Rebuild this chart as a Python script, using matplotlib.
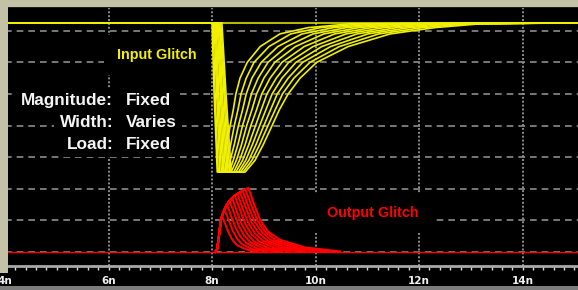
import matplotlib.pyplot as plt
from matplotlib.patches import Rectangle
from matplotlib.ticker import MultipleLocator

# ---- data (time in ns, level in grid units) ----
t_min, t_max = 4.0, 15.07
v_top = 7.25
v_low = 2.53

# input glitch: 11 traces, falling edge (top -> mid -> bottom)
fall_start = [8.00, 8.02, 8.04, 8.06, 8.08, 8.10, 8.12, 8.14, 8.15, 8.17, 8.19]
fall_mid = [8.04, 8.06, 8.09, 8.11, 8.13, 8.16, 8.18, 8.20, 8.23, 8.25, 8.27]
fall_bottom = [8.10, 8.12, 8.15, 8.18, 8.21, 8.23, 8.26, 8.29, 8.31, 8.34, 8.37]

# rising edge: time at which each trace crosses these levels
rise_levels = [2.53, 2.9, 3.4, 4.0, 4.5, 5.0, 5.5, 6.0, 6.5, 6.9, 7.1, 7.22]
rise_times = [
    [8.19, 8.23, 8.29, 8.35, 8.41, 8.46, 8.54, 8.68, 8.93, 9.31, 9.86, 10.67],
    [8.24, 8.29, 8.36, 8.43, 8.50, 8.56, 8.66, 8.81, 9.10, 9.52, 10.10, 10.92],
    [8.28, 8.35, 8.43, 8.51, 8.59, 8.66, 8.77, 8.95, 9.27, 9.74, 10.35, 11.17],
    [8.33, 8.41, 8.50, 8.59, 8.68, 8.76, 8.89, 9.08, 9.44, 9.95, 10.60, 11.42],
    [8.37, 8.47, 8.57, 8.67, 8.77, 8.86, 9.00, 9.21, 9.61, 10.16, 10.84, 11.67],
    [8.42, 8.53, 8.64, 8.75, 8.86, 8.96, 9.12, 9.35, 9.78, 10.37, 11.09, 11.92],
    [8.46, 8.59, 8.71, 8.84, 8.95, 9.06, 9.24, 9.48, 9.95, 10.59, 11.33, 12.17],
    [8.51, 8.65, 8.78, 8.92, 9.04, 9.16, 9.35, 9.62, 10.12, 10.80, 11.58, 12.42],
    [8.55, 8.71, 8.85, 9.00, 9.13, 9.26, 9.47, 9.75, 10.29, 11.01, 11.82, 12.68],
    [8.60, 8.77, 8.92, 9.08, 9.22, 9.36, 9.58, 9.89, 10.46, 11.22, 12.07, 12.93],
    [8.64, 8.83, 8.99, 9.16, 9.30, 9.47, 9.70, 10.02, 10.63, 11.44, 12.31, 13.18],
]

# output glitch: common rising path, per-trace peak and decay
red_rise_t = [8.06, 8.10, 8.14, 8.17, 8.21, 8.27, 8.35, 8.43, 8.50, 8.60, 8.70]
red_rise_v = [0.00, 0.10, 0.60, 1.00, 1.23, 1.45, 1.65, 1.77, 1.85, 1.95, 2.03]
peak_t = [8.19, 8.24, 8.29, 8.34, 8.39, 8.44, 8.49, 8.54, 8.59, 8.64, 8.70]
peak_v = [1.15, 1.35, 1.50, 1.62, 1.71, 1.78, 1.84, 1.89, 1.94, 1.98, 2.03]
decay_frac = [0.75, 0.5, 0.32, 0.19, 0.07, 0.01]
decay_times = [
    [8.26, 8.33, 8.40, 8.48, 8.66, 8.90],
    [8.32, 8.40, 8.48, 8.57, 8.77, 9.06],
    [8.37, 8.46, 8.55, 8.66, 8.88, 9.21],
    [8.43, 8.52, 8.62, 8.74, 8.99, 9.36],
    [8.48, 8.58, 8.69, 8.82, 9.10, 9.52],
    [8.54, 8.64, 8.76, 8.91, 9.22, 9.67],
    [8.59, 8.70, 8.83, 8.99, 9.33, 9.82],
    [8.65, 8.76, 8.90, 9.07, 9.44, 9.98],
    [8.70, 8.82, 8.97, 9.15, 9.56, 10.13],
    [8.76, 8.88, 9.03, 9.23, 9.68, 10.30],
    [8.81, 8.93, 9.08, 9.31, 9.80, 10.47],
]

major_ticks = [4, 6, 8, 10, 12, 14]
tick_labels = ["4n", "6n", "8n", "10n", "12n", "14n"]

YELLOW = "#f0f000"
RED = "#ff0000"
BEIGE = "#c4c2a6"
GRID = "#8c8c8c"

W, H = 578, 290
fig = plt.figure(figsize=(W / 100, H / 100), dpi=100, facecolor=BEIGE)

# plot area: x 5..578 px, y 8..266 px
ax = fig.add_axes([5 / W, (H - 266) / H, (W - 5) / W, (266 - 8) / H])
ax.set_facecolor("black")
ax.set_xlim(t_min, t_max)
ax.set_ylim(-0.443, 7.72)

# grid
for v in range(8):
    ax.axhline(v, color=GRID, lw=1.2, ls=(0, (4, 3)), zorder=1)
for t in major_ticks:
    ax.axvline(t, color=GRID, lw=1.4, ls=(0, (1, 1)), zorder=1)

# baselines
ax.plot([t_min, t_max], [v_top, v_top], color=YELLOW, lw=1.1, zorder=3)
ax.plot([t_min, t_max], [0, 0], color=RED, lw=1.0, zorder=3)

# input glitch traces
for i in range(len(rise_times)):
    ts = [t_min, fall_start[i], fall_mid[i], fall_bottom[i]] + rise_times[i] + [t_max]
    vs = [v_top, v_top, 5.0, v_low] + rise_levels + [v_top]
    ax.plot(ts, vs, color=YELLOW, lw=1.2, zorder=3)

# output glitch traces
for i in range(len(peak_t)):
    ts = [t for t in red_rise_t if t < peak_t[i]]
    vs = red_rise_v[:len(ts)]
    ts = ts + [peak_t[i]] + decay_times[i]
    vs = vs + [peak_v[i]] + [peak_v[i] * f for f in decay_frac]
    ax.plot(ts, vs, color=RED, lw=1.5, zorder=3)

# annotations
txt = dict(family=["Liberation Sans", "DejaVu Sans"], weight="bold", zorder=4)
ax.text(6.94, 6.23, "Input Glitch", color=YELLOW, fontsize=10.4, ha="center", va="center",
        bbox=dict(boxstyle="square,pad=0.9", fc="black", ec="none"), **txt)
ax.text(11.11, 1.23, "Output Glitch", color=RED, fontsize=10.4, ha="center", va="center",
        bbox=dict(boxstyle="square,pad=0.9", fc="black", ec="none"), **txt)
rows = [("Magnitude:", "Fixed", 4.78), ("Width:", "Varies", 4.11), ("Load:", "Fixed", 3.40)]
for lab, val, y in rows:
    ax.text(6.09, y, lab, color="#f4f4f4", fontsize=12.4, ha="right", va="center",
            bbox=dict(boxstyle="square,pad=0.3", fc="black", ec="none"), **txt)
    ax.text(6.34, y, val, color="#f4f4f4", fontsize=12.4, ha="left", va="center",
            bbox=dict(boxstyle="square,pad=0.3", fc="black", ec="none"), **txt)

# axis styling
for s in ["top", "left", "right"]:
    ax.spines[s].set_visible(False)
ax.spines["bottom"].set_color("#a8a8a8")
ax.spines["bottom"].set_linewidth(2.0)
ax.set_yticks([])
ax.set_xticks(major_ticks)
ax.set_xticklabels(tick_labels)
ax.xaxis.set_minor_locator(MultipleLocator(0.2))
ax.tick_params(axis="x", which="both", direction="out", color="#d8d8d8", width=1.0,
               length=2.8, pad=4.5, labelcolor="#f0f0f0", labelsize=7.5)
for lbl in ax.get_xticklabels():
    lbl.set_fontweight("bold")

# frame pieces around the plot
fig.add_artist(Rectangle((0, 4 / H), 1, 20 / H, transform=fig.transFigure,
                         fc="black", ec="none", zorder=-1))
fig.add_artist(Rectangle((0, 0), 1, 4 / H, transform=fig.transFigure,
                         fc="#7c7c7c", ec="none", zorder=-1))
fig.add_artist(Rectangle((0, (H - 273) / H), 8 / W, 273 / H, transform=fig.transFigure,
                         fc=BEIGE, ec="none", zorder=5))
fig.add_artist(Rectangle((8 / W, (H - 8) / H), 1, 1.5 / H, transform=fig.transFigure,
                         fc="#202020", ec="none", zorder=5))

fig.savefig("out.png", dpi=100, facecolor=BEIGE)
